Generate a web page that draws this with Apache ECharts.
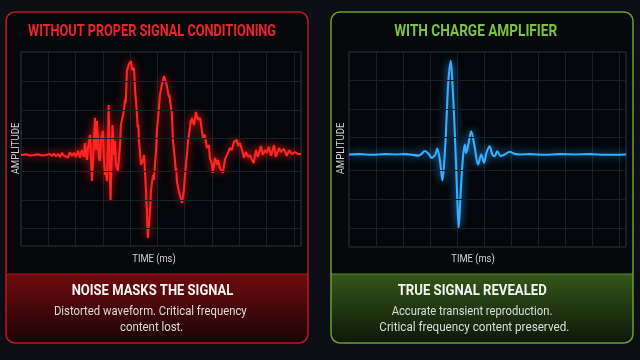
<!DOCTYPE html>
<html><head><meta charset="utf-8">
<script src="https://cdn.jsdelivr.net/npm/echarts@6/dist/echarts.min.js"></script>
<style>html,body{margin:0;padding:0;background:#0b0f15;}#c{width:640px;height:360px;}</style>
</head><body><div id="c"></div>
<script>
// Left panel: noisy waveform (time in ms, amplitude in arbitrary units)
const timeLeft = [0,0.18,0.33,0.48,0.62,0.77,0.92,0.99,1.06,1.14,
1.21,1.28,1.36,1.43,1.50,1.58,1.65,1.72,1.79,1.87,
1.94,2.01,2.09,2.16,2.23,2.31,2.34,2.42,2.45,2.53,
2.60,2.64,2.71,2.75,2.78,2.86,2.89,2.93,3.00,3.04,
3.08,3.11,3.15,3.19,3.21,3.26,3.28,3.33,3.35,3.41,
3.44,3.48,3.55,3.63,3.66,3.77,3.81,3.83,3.85,3.88,3.96,4.03,
4.07,4.14,4.18,4.25,4.28,4.30,4.32,4.40,4.47,4.51,4.58,4.65,
4.73,4.76,4.84,4.87,4.95,4.98,5.05,5.09,5.16,5.24,
5.31,5.38,5.42,5.44,5.46,5.53,5.57,5.64,5.67,5.69,5.71,5.79,5.90,5.97,
6.01,6.08,6.12,6.19,6.22,6.24,6.26,6.34,6.41,6.48,6.56,6.67,
6.74,6.81,6.89,6.92,7.00,7.03,7.11,7.18,7.22,7.29,
7.40,7.47,7.55,7.66,7.73,7.80,7.91,7.95,8.02,8.10,
8.17,8.24,8.32,8.39,8.46,8.53,8.61,8.68,8.79,8.86,
8.94,9.01,9.08,9.16,9.27,9.34,9.45,9.52,9.63,9.74,
9.82,9.93,10.04,10.15,10.26];
const ampLeft = [0,0.02,-0.02,0,0.02,-0.02,0,-0.03,0.03,-0.03,
0.05,-0.05,0.03,-0.07,0.07,-0.03,0.03,-0.09,0.09,-0.03,
0.07,-0.07,0.14,-0.10,0.16,-0.07,0.41,-0.17,0.21,0.69,
-0.90,-0.17,1.28,0.17,1.17,-0.10,-0.21,0.52,0.83,-0.17,
-0.69,-0.52,-0.90,0.52,1.72,-0.69,-1.59,0.17,1.03,0,
0.48,-0.34,-0.55,0.34,1.03,1.52,1.90,1.78,2.07,2.90,3.14,3.24,
2.93,3.00,2.24,1.38,0.95,1.05,0.52,-0.34,-0.17,0,-1.24,-2.86,
-1.90,-1.24,-0.69,-0.86,0.17,0.83,1.55,2.07,2.41,2.72,
2.52,2.21,2.00,2.08,1.90,1.38,0.48,-0.17,-0.55,-0.45,-0.90,-1.28,-1.66,-1.21,
-0.69,0,0.48,0.93,1.20,1.08,1.28,1.03,1.48,1.21,1.28,0.59,
0.69,0.24,0.34,-0.10,-0.34,-0.62,-0.10,-0.34,-0.17,-0.45,
-0.62,-0.17,0,0.24,0.17,0.45,0.52,0.31,0.41,0.17,
-0.10,0.10,-0.07,0,-0.17,-0.28,0.17,-0.07,0.31,0,
0.17,0.07,0.28,-0.03,0.34,-0.07,0.24,0.10,0.21,-0.03,
0.17,0.03,0.10,0.03,0.03];

// Right panel: clean transient
const timeRight = [0,0.41,0.85,1.33,1.78,2.07,2.33,2.57,2.69,2.81,
2.94,3.06,3.19,3.27,3.37,3.46,3.56,3.62,3.68,3.77,
3.84,3.89,3.95,4.01,4.06,4.09,4.14,4.22,4.29,4.34,
4.41,4.53,4.66,4.78,4.90,5.00,5.09,5.21,5.31,5.40,
5.49,5.62,5.77,5.95,6.14,6.38,6.70,7.26,7.81,8.37,
8.93,9.48,10.26];
const ampRight = [0,0.01,-0.01,0.01,0,0.01,-0.01,-0.04,0.02,0.12,
0.03,-0.12,-0.02,0.2,-0.22,-0.9,0.22,1.37,2.53,3.23,
2.29,1.37,0,-1.5,-2.53,-2.19,-1.26,-0.12,0.34,0.05,
0.3,0.8,0.22,-0.35,0,-0.29,0.05,0.28,0,-0.06,
0.11,-0.06,0,0.09,0.02,0,0.01,-0.01,0.01,0,
0.01,-0.01,0];

// horizontal graticule levels (amplitude units)
const gridLevels = [2.55,1.55,0.58,-0.56,-1.55,-2.53];

const titles = ['WITHOUT PROPER SIGNAL CONDITIONING','WITH CHARGE AMPLIFIER'];
const verdicts = ['NOISE MASKS THE SIGNAL','TRUE SIGNAL REVEALED'];
const notesLeft = ['Distorted waveform. Critical frequency','content lost.'];
const notesRight = ['Accurate transient reproduction.','Critical frequency content preserved.'];
const axisNames = ['AMPLITUDE','TIME (ms)'];

const chart = echarts.init(document.getElementById('c'), null, {renderer:'canvas'});
const mctx = document.createElement('canvas').getContext('2d');
function fitScale(text, font, target){ mctx.font = font; return target / mctx.measureText(text).width; }
function label(text, cx, cy, size, weight, color, targetW, rot){
  const font = weight + ' ' + size + 'px Roboto, "Liberation Sans", sans-serif';
  const s = fitScale(text, font, targetW);
  return {type:'text', x:cx, y:cy, rotation: rot||0, scaleX:s, z:50, silent:true,
    style:{text:text, x:0, y:0, font:font, fill:color, align:'center', verticalAlign:'middle', textAlign:'center', textVerticalAlign:'middle'}};
}
function grad(c1,c2){ return new echarts.graphic.LinearGradient(0,0,0,1,[{offset:0,color:c1},{offset:1,color:c2}]); }

const graphic = [
  {type:'rect', z:-10, silent:true, shape:{x:6,y:12,width:302,height:331,r:9}, style:{fill:'#06080b'}},
  {type:'rect', z:-10, silent:true, shape:{x:331,y:12,width:302,height:331,r:9}, style:{fill:'#06080b'}},
  {type:'rect', z:-9, silent:true, shape:{x:6,y:274,width:302,height:69,r:[0,0,9,9]}, style:{fill:grad('#6e0c0e','#1a0405')}},
  {type:'rect', z:-9, silent:true, shape:{x:331,y:274,width:302,height:69,r:[0,0,9,9]}, style:{fill:grad('#335619','#0d1808')}},
  {type:'line', z:-8, silent:true, shape:{x1:6,y1:274,x2:308,y2:274}, style:{stroke:'#a8141a', lineWidth:1}},
  {type:'line', z:-8, silent:true, shape:{x1:331,y1:274,x2:633,y2:274}, style:{stroke:'#5a8a2a', lineWidth:1}},
  {type:'rect', z:-7, silent:true, shape:{x:6,y:12,width:302,height:331,r:9}, style:{fill:'none', stroke:'#c0161e', lineWidth:1.5}},
  {type:'rect', z:-7, silent:true, shape:{x:331,y:12,width:302,height:331,r:9}, style:{fill:'none', stroke:'#6a9e30', lineWidth:1.5}},
  label(titles[0], 152, 31.5, 17, 'bold', '#f0232a', 248),
  label(titles[1], 475.7, 31.5, 17, 'bold', '#7cc243', 163),
  label(verdicts[0], 152.5, 291.5, 15, 'bold', '#f4f4f4', 161.6),
  label(verdicts[1], 472.2, 291.5, 15, 'bold', '#f4f4f4', 149),
  label(notesLeft[0], 150.3, 312, 13, 'normal', '#dcdcdc', 192.7),
  label(notesLeft[1], 151.7, 328, 13, 'normal', '#dcdcdc', 63.3),
  label(notesRight[0], 472, 312, 13, 'normal', '#dcdcdc', 160.7),
  label(notesRight[1], 474.3, 328, 13, 'normal', '#dcdcdc', 190),
  label(axisNames[0], 16, 148.5, 11, 'normal', '#d2d2d2', 51.7, Math.PI/2),
  label(axisNames[0], 341, 148.5, 11, 'normal', '#d2d2d2', 51.7, Math.PI/2),
  label(axisNames[1], 154, 259.5, 11, 'normal', '#d2d2d2', 43.3),
  label(axisNames[1], 473, 259.5, 11, 'normal', '#d2d2d2', 43.3)
];

function xAx(i){ return {gridIndex:i, type:'value', min:0, max:10.26, interval:1,
  axisLine:{show:false}, axisTick:{show:false}, axisLabel:{show:false},
  splitLine:{show:true, lineStyle:{color:'#17212b', width:1}}}; }
function yAx(i,mn,mx){ return {gridIndex:i, type:'value', min:mn, max:mx,
  axisLine:{show:false}, axisTick:{show:false}, axisLabel:{show:false}, splitLine:{show:false}}; }
function graticule(i){ return {type:'line', xAxisIndex:i, yAxisIndex:i, data:[], silent:true, z:1,
  markLine:{silent:true, symbol:['none','none'], label:{show:false}, animation:false,
    lineStyle:{color:'#17212b', width:1, type:'solid'}, data: gridLevels.map(v=>({yAxis:v}))}}; }

chart.setOption({
  backgroundColor:'#0b0f15',
  animation:false,
  graphic: graphic,
  grid:[
    {left:21, top:52, width:280, height:194, show:true, backgroundColor:'#03060a', borderColor:'#28323d', borderWidth:1},
    {left:349, top:52, width:277, height:195, show:true, backgroundColor:'#03060a', borderColor:'#28323d', borderWidth:1}
  ],
  xAxis:[xAx(0), xAx(1)],
  yAxis:[yAx(0,-3.14,3.55), yAx(1,-3.19,3.53)],
  series:[
    graticule(0), graticule(1),
    {type:'line', xAxisIndex:0, yAxisIndex:0, z:3, showSymbol:false, symbol:'none',
      data: timeLeft.map((t,i)=>[t, ampLeft[i]]),
      lineStyle:{color:'#ff2621', width:2.1, shadowColor:'rgba(255,20,20,0.9)', shadowBlur:8}},
    {type:'line', xAxisIndex:1, yAxisIndex:1, z:3, showSymbol:false, symbol:'none', smooth:0.3,
      data: timeRight.map((t,i)=>[t, ampRight[i]]),
      lineStyle:{color:'#34b0ff', width:2.1, shadowColor:'rgba(40,160,255,0.9)', shadowBlur:8}}
  ]
});
</script></body></html>
